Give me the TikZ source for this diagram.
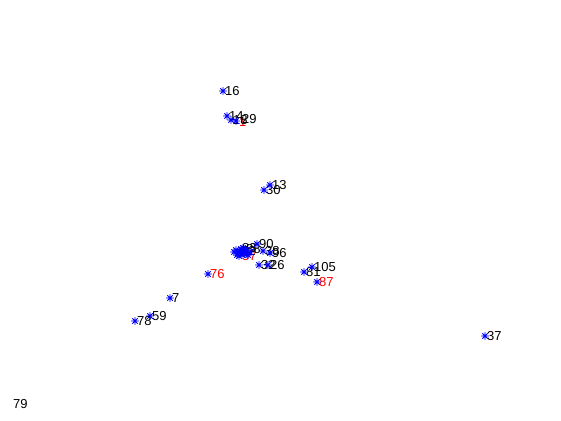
\documentclass[tikz,border=0pt]{standalone}
\usepackage{fontspec}
\setmainfont{Liberation Sans}
\begin{document}
\begin{tikzpicture}[x=1pt,y=-1pt,
  mk/.pic={\draw[blue,line width=0.8pt] (-3.8,0)--(3.8,0) (0,-3.8)--(0,3.8) (-2.7,-2.7)--(2.7,2.7) (-2.7,2.7)--(2.7,-2.7);},
  lab/.style={anchor=west,inner sep=0pt,xshift=2pt,font=\fontsize{13}{13}\selectfont,text=black},
  rlab/.style={lab,text=red}]
\useasboundingbox[fill=white] (0,0) rectangle (561,420);
% top group
\node[lab] (l16) at (223,91) {16};
\pic at (223,91) {mk};
\node[rlab] (l11) at (237,122) {1};
\node[lab] (l14) at (227,116) {14};
\node[lab] (l18) at (231,120) {18};
\node[lab] (l29) at (240,119) {29};
\pic at (227,116) {mk};
\pic at (231,120) {mk};
\pic at (236,121) {mk};
% 13 / 30
\node[lab] (l13) at (270,185) {13};
\node[lab] (l30) at (264,190) {30};
\pic at (270,185) {mk};
\pic at (264,190) {mk};
% cluster
\node[rlab] (l57) at (240,256) {57};
\node[lab] (l83) at (240,248) {83};
\node[lab] (l88) at (244,249) {88};
\node[lab] (l52) at (239,251) {52};
\node[lab] (l90) at (257,244) {90};
\node[lab] (l38) at (263,251) {38};
\node[lab] (l96) at (270,253) {96};
\node[lab] (l32) at (259,265) {32};
\node[lab] (l26) at (268,265) {26};
\foreach \p in {(236,250),(238,253),(240,251),(242,255),(244,252),(246,250),(247,254),(250,252),(243,248),(239,256),(241,249),(245,250),(240,252),(248,255),(234,252),(237,255)}
  \pic at \p {mk};
\pic at (257,244) {mk};
\pic at (263,251) {mk};
\pic at (270,253) {mk};
\pic at (259,265) {mk};
\pic at (268,265) {mk};
% 76
\node[rlab] (l76) at (208,274) {76};
\pic at (208,274) {mk};
% right group
\node[lab] (l105) at (312,267) {105};
\node[lab] (l81) at (304,272) {81};
\node[rlab] (l87) at (317,282) {87};
\pic at (312,267) {mk};
\pic at (304,272) {mk};
\pic at (317,282) {mk};
% lower left
\node[lab] (l7) at (170,298) {7};
\pic at (170,298) {mk};
\node[lab] (l59) at (150,316) {59};
\pic at (150,316) {mk};
\node[lab] (l78) at (135,321) {78};
\pic at (135,321) {mk};
% far right
\node[lab] (l37) at (485,336) {37};
\pic at (485,336) {mk};
% corner
\node[lab] (l79) at (11,404) {79};
\end{tikzpicture}
\end{document}
